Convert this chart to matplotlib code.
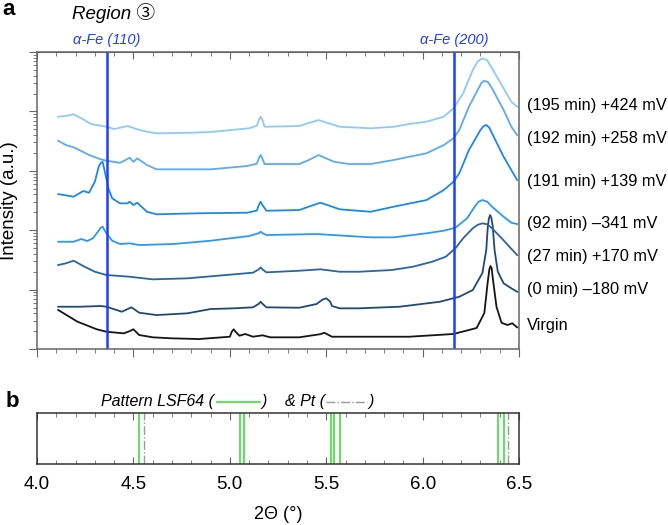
import matplotlib.pyplot as plt
import numpy as np
from matplotlib.ticker import MultipleLocator, LogLocator, NullFormatter

plt.rcParams['font.family'] = ['Liberation Sans', 'DejaVu Sans', 'Noto Sans CJK JP']

# 2-theta (deg) and log10 intensity (a.u.)
tt_virgin = [4.11, 4.21, 4.31, 4.36, 4.45, 4.48, 4.50, 4.53, 4.60, 4.70, 4.84, 5.00, 5.01, 5.02,
             5.03, 5.05, 5.08, 5.12, 5.17, 5.21, 5.36, 5.47, 5.49, 5.53, 5.67, 5.93, 6.16, 6.28,
             6.32, 6.337, 6.346, 6.352, 6.358, 6.363, 6.383, 6.409, 6.44, 6.465, 6.49]
li_virgin = [0.657, 0.460, 0.332, 0.291, 0.264, 0.300, 0.332, 0.236, 0.197, 0.180, 0.168, 0.207,
             0.290, 0.332, 0.290, 0.224, 0.253, 0.207, 0.231, 0.197, 0.197, 0.250, 0.274, 0.207,
             0.207, 0.207, 0.253, 0.354, 0.606, 1.111, 1.340, 1.397, 1.360, 1.217, 0.712, 0.443,
             0.404, 0.433, 0.365]

tt_0min = [4.11, 4.22, 4.33, 4.36, 4.44, 4.49, 4.53, 4.62, 4.78, 4.90, 5.02, 5.12, 5.15, 5.16,
           5.17, 5.19, 5.36, 5.45, 5.48, 5.50, 5.52, 5.53, 5.57, 5.67, 5.88, 6.09, 6.19, 6.26,
           6.31, 6.33, 6.338, 6.344, 6.35, 6.357, 6.364, 6.373, 6.39, 6.42, 6.46, 6.49]
li_0min = [0.712, 0.712, 0.724, 0.712, 0.628, 0.702, 0.611, 0.572, 0.601, 0.673, 0.685, 0.702,
           0.760, 0.796, 0.760, 0.702, 0.695, 0.758, 0.830, 0.854, 0.800, 0.724, 0.685, 0.685,
           0.712, 0.796, 0.880, 0.993, 1.279, 1.667, 2.059, 2.200, 2.256, 2.200, 2.059, 1.667,
           1.301, 1.106, 1.022, 0.965]

tt_27min = [4.11, 4.15, 4.19, 4.24, 4.30, 4.36, 4.48, 4.60, 4.78, 4.98, 5.12, 5.15, 5.16, 5.17,
            5.19, 5.36, 5.47, 5.57, 5.67, 5.84, 5.95, 6.05, 6.12, 6.17, 6.21, 6.26, 6.285, 6.31,
            6.335, 6.36, 6.41, 6.45, 6.49]
li_27min = [1.414, 1.443, 1.487, 1.397, 1.301, 1.246, 1.217, 1.173, 1.190, 1.246, 1.285, 1.340,
            1.375, 1.340, 1.291, 1.318, 1.342, 1.301, 1.301, 1.330, 1.386, 1.470, 1.554, 1.695,
            1.864, 2.032, 2.090, 2.116, 2.100, 2.032, 1.864, 1.722, 1.582]

tt_92min = [4.11, 4.19, 4.23, 4.26, 4.29, 4.32, 4.33, 4.34, 4.36, 4.39, 4.43, 4.48, 4.53, 4.71,
            4.90, 5.10, 5.15, 5.16, 5.17, 5.19, 5.45, 5.73, 5.85, 6.02, 6.11, 6.17, 6.23, 6.27,
            6.29, 6.31, 6.335, 6.36, 6.42, 6.46, 6.49]
li_92min = [1.806, 1.806, 1.852, 1.818, 1.864, 1.992, 2.040, 2.059, 1.948, 1.823, 1.768, 1.779,
            1.751, 1.768, 1.823, 1.902, 1.950, 1.975, 1.950, 1.919, 1.936, 1.880, 1.880, 1.948,
            1.992, 2.042, 2.200, 2.396, 2.480, 2.508, 2.480, 2.396, 2.227, 2.126, 2.104]

tt_191min = [4.11, 4.19, 4.24, 4.27, 4.30, 4.32, 4.33, 4.34, 4.35, 4.37, 4.39, 4.43, 4.47, 4.48,
             4.50, 4.52, 4.57, 4.62, 4.84, 5.09, 5.14, 5.15, 5.16, 5.17, 5.19, 5.36, 5.43, 5.47,
             5.51, 5.57, 5.73, 5.85, 6.02, 6.11, 6.16, 6.19, 6.24, 6.30, 6.315, 6.33, 6.345, 6.36,
             6.42, 6.47, 6.49]
li_191min = [2.609, 2.564, 2.660, 2.631, 2.816, 3.069, 3.130, 3.153, 3.013, 2.705, 2.537, 2.453,
             2.453, 2.480, 2.424, 2.463, 2.311, 2.268, 2.285, 2.295, 2.330, 2.420, 2.480, 2.420,
             2.328, 2.340, 2.420, 2.463, 2.420, 2.352, 2.311, 2.396, 2.508, 2.677, 2.816, 2.958,
             3.350, 3.687, 3.750, 3.771, 3.730, 3.631, 3.237, 2.958, 2.845]

tt_192min = [4.11, 4.15, 4.19, 4.22, 4.27, 4.33, 4.36, 4.43, 4.46, 4.48, 4.50, 4.52, 4.57, 4.62,
             4.79, 4.90, 5.09, 5.14, 5.15, 5.16, 5.17, 5.18, 5.36, 5.41, 5.46, 5.54, 5.62, 5.73,
             5.85, 5.93, 6.02, 6.11, 6.16, 6.19, 6.24, 6.29, 6.305, 6.32, 6.34, 6.36, 6.42, 6.46,
             6.49]
li_192min = [3.507, 3.434, 3.396, 3.350, 3.266, 3.194, 3.170, 3.136, 3.182, 3.221, 3.153, 3.210,
             3.098, 3.025, 3.025, 3.025, 3.081, 3.120, 3.210, 3.266, 3.200, 3.114, 3.114, 3.182,
             3.266, 3.153, 3.114, 3.114, 3.182, 3.237, 3.295, 3.434, 3.547, 3.687, 4.079, 4.389,
             4.480, 4.517, 4.490, 4.389, 4.024, 3.742, 3.603]

tt_195min = [4.11, 4.15, 4.19, 4.24, 4.28, 4.36, 4.40, 4.47, 4.52, 4.57, 4.62, 4.79, 4.90, 5.10,
             5.14, 5.15, 5.16, 5.17, 5.18, 5.36, 5.46, 5.57, 5.73, 5.85, 5.93, 6.02, 6.11, 6.16,
             6.21, 6.26, 6.285, 6.31, 6.335, 6.36, 6.42, 6.46, 6.49]
li_195min = [3.911, 3.923, 3.951, 3.867, 3.788, 3.742, 3.704, 3.754, 3.699, 3.658, 3.631, 3.641,
             3.653, 3.716, 3.760, 3.850, 3.911, 3.850, 3.742, 3.754, 3.855, 3.742, 3.716, 3.742,
             3.788, 3.827, 3.911, 4.052, 4.305, 4.697, 4.840, 4.894, 4.860, 4.726, 4.389, 4.163,
             4.079]

curves = [(tt_virgin, li_virgin), (tt_0min, li_0min), (tt_27min, li_27min), (tt_92min, li_92min),
          (tt_191min, li_191min), (tt_192min, li_192min), (tt_195min, li_195min)]
labels = ["Virgin", "(0 min) \u2013180 mV", "(27 min) +170 mV", "(92 min) \u2013341 mV",
          "(191 min) +139 mV", "(192 min) +258 mV", "(195 min) +424 mV"]
label_y = [0.392, 1.005, 1.554, 2.116, 2.816, 3.547, 4.096]
colors = ["#151515", "#1f4a78", "#2a64a4", "#2b98f2", "#1a88ee", "#5aabf2", "#8ecaf7"]

fe_pos = [4.363, 6.162]
fe_labels = ["\u03b1-Fe (110)", "\u03b1-Fe (200)"]

lsf_pos = [4.528, 5.055, 5.074, 5.527, 5.539, 5.570, 6.390, 6.421]
pt_pos = [4.554, 6.442]

spine_c = "#666666"

fig = plt.figure(figsize=(6.68, 5.25), dpi=100)
ax = fig.add_axes([0.0554, 0.3352, 0.7216, 0.5657])
ax2 = fig.add_axes([0.0554, 0.1162, 0.7216, 0.0971])

for (tt, li), c in zip(curves, colors):
    ax.plot(tt, 10 ** np.array(li), color=c, lw=1.3)
for lab, y in zip(labels, label_y):
    ax.text(6.54, 10 ** y, lab, fontsize=11.8, va="center", ha="left", clip_on=False)

for x, lab in zip(fe_pos, fe_labels):
    ax.axvline(x, color="#1f3dff", lw=1.8)
    ax.text(x, 10 ** 5.2, lab, color="#1f3dff", fontsize=10.5, style="italic",
            ha="center", va="center", clip_on=False)

ax.set_yscale("log")
ax.set_ylim(1, 1e5)
ax.set_xlim(4.0, 6.5)
ax.set_ylabel("Intensity (a.u.)", fontsize=13.5, labelpad=4)
ax.yaxis.set_major_locator(LogLocator(base=10, numticks=10))
ax.yaxis.set_minor_locator(LogLocator(base=10, subs=np.arange(2, 10), numticks=10))
ax.yaxis.set_major_formatter(NullFormatter())
ax.yaxis.set_minor_formatter(NullFormatter())
ax.xaxis.set_major_locator(MultipleLocator(0.5))
ax.xaxis.set_minor_locator(MultipleLocator(0.1))
ax.tick_params(axis="x", which="both", labelbottom=False, direction="out", color=spine_c)
ax.tick_params(axis="x", which="major", length=6)
ax.tick_params(axis="x", which="minor", length=3)
ax.tick_params(axis="y", which="major", length=6, direction="out", color=spine_c)
ax.tick_params(axis="y", which="minor", length=3, direction="out", color=spine_c)
for s in ax.spines.values():
    s.set_color(spine_c)
    s.set_linewidth(1.1)

top = ax.secondary_xaxis("top")
top.xaxis.set_major_locator(MultipleLocator(0.5))
top.xaxis.set_minor_locator(MultipleLocator(0.1))
top.tick_params(axis="x", which="both", direction="in", labeltop=False, color=spine_c)
top.tick_params(axis="x", which="major", length=5)
top.tick_params(axis="x", which="minor", length=3)
top.spines["top"].set_color(spine_c)

ax.text(0.073, 1.13, "Region \u2462", transform=ax.transAxes, fontsize=13.5, style="italic",
        ha="left", va="center", family=["Liberation Sans", "Noto Sans CJK JP"])
fig.text(0.003, 0.982, "a", fontsize=16, fontweight="bold", va="center", ha="left")
fig.text(0.008, 0.235, "b", fontsize=16, fontweight="bold", va="center", ha="left")

# reference pattern panel
for x in lsf_pos:
    ax2.axvline(x, color="#3de23d", lw=1.2)
for x in pt_pos:
    ax2.axvline(x, color="#999999", lw=1.0, ls="-.")
ax2.set_xlim(4.0, 6.5)
ax2.set_ylim(0, 1)
ax2.set_yticks([])
ax2.xaxis.set_major_locator(MultipleLocator(0.5))
ax2.xaxis.set_minor_locator(MultipleLocator(0.1))
ax2.xaxis.set_major_formatter(lambda v, p: f"{v:.1f}")
ax2.tick_params(axis="x", which="both", top=True, direction="in", color=spine_c, labelsize=13.5)
ax2.tick_params(axis="x", which="major", length=5, pad=9)
ax2.tick_params(axis="x", which="minor", length=3)
for s in ax2.spines.values():
    s.set_color("#333333")
    s.set_linewidth(1.1)
ax2.set_xlabel("2\u0398 (\u00b0)", fontsize=13, labelpad=9)

ty = 1.22
ax2.text(0.368, ty, "Pattern LSF64 (", transform=ax2.transAxes, fontsize=11.5, style="italic",
         ha="right", va="center")
ax2.plot([0.373, 0.463], [ty, ty], transform=ax2.transAxes, color="#3de23d", lw=1.2, clip_on=False)
ax2.text(0.466, ty, ")", transform=ax2.transAxes, fontsize=11.5, style="italic", ha="left", va="center")
ax2.text(0.597, ty, "& Pt (", transform=ax2.transAxes, fontsize=11.5, style="italic",
         ha="right", va="center")
ax2.plot([0.60, 0.685], [ty, ty], transform=ax2.transAxes, color="#999999", lw=1.0, ls="-.",
         clip_on=False)
ax2.text(0.688, ty, ")", transform=ax2.transAxes, fontsize=11.5, style="italic", ha="left", va="center")

fig.savefig("out.png", dpi=100)
